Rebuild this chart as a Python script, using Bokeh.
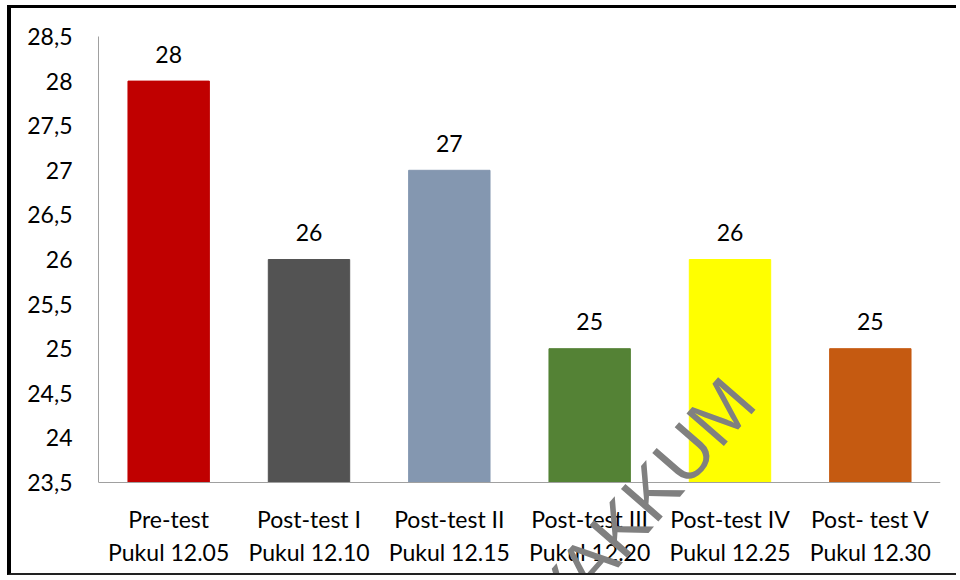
from bokeh.plotting import figure
from bokeh.models import FactorRange, Range1d, FixedTicker, Label, ColumnDataSource
from bokeh.core.properties import value
from bokeh.embed import file_html
from bokeh.resources import INLINE
import math

categories = ["Pre-test\nPukul 12.05", "Post-test I\nPukul 12.10", "Post-test II\nPukul 12.15",
              "Post-test III\nPukul 12.20", "Post-test IV\nPukul 12.25", "Post- test V\nPukul 12.30"]
scores = [28, 26, 27, 25, 26, 25]
bar_colors = ["#C00000", "#535353", "#8497B0", "#548235", "#FFFF00", "#C55A11"]
y_ticks = [23.5, 24, 24.5, 25, 25.5, 26, 26.5, 27, 27.5, 28, 28.5]
y_tick_labels = ["23,5", "24", "24,5", "25", "25,5", "26", "26,5", "27", "27,5", "28", "28,5"]
watermark = "YAKKUM"

FONT = "Lato"
PX_PER_UNIT = 446 / 5.0
Y_MIN, Y_MAX = 23.5, 28.5
frame_h = 570 - 28
y_low = Y_MAX - frame_h / PX_PER_UNIT

src = ColumnDataSource(dict(x=categories, top=scores, color=bar_colors,
                            label=[str(s) for s in scores]))

p = figure(width=949, height=570, output_backend="svg", toolbar_location=None,
           x_range=FactorRange(*categories, range_padding=0), y_range=Range1d(y_low, Y_MAX),
           min_border_left=87, min_border_top=28, min_border_right=20, min_border_bottom=0)
p.styles = {"margin-left": "7px", "margin-top": "5px",
            "border-top": "3px solid black", "border-left": "4px solid black",
            "border-bottom": "2px solid #222"}

p.vbar(x="x", top="top", bottom=Y_MIN, width=0.58, color="color", source=src)
p.text(x="x", y="top", text="label", source=src, text_align="center",
       text_baseline="alphabetic", y_offset=-27, text_font=value(FONT),
       text_font_size="23px", text_color="black")

p.xgrid.visible = False
p.ygrid.visible = False
p.outline_line_color = None

p.yaxis.ticker = FixedTicker(ticks=y_ticks)
p.yaxis.bounds = (Y_MIN, Y_MAX)
p.yaxis.major_label_overrides = {t: l for t, l in zip(y_ticks, y_tick_labels)}
p.yaxis.major_tick_line_color = None
p.yaxis.minor_tick_line_color = None
p.yaxis.major_tick_out = 0
p.yaxis.major_label_standoff = 26
p.yaxis.axis_line_color = "#A0A0A0"

p.xaxis.fixed_location = Y_MIN
p.xaxis.major_tick_line_color = None
p.xaxis.minor_tick_line_color = None
p.xaxis.major_tick_out = 0
p.xaxis.major_label_standoff = 22
p.xaxis.axis_line_color = "#A0A0A0"

for ax in (p.xaxis, p.yaxis):
    ax.major_label_text_font = FONT
    ax.major_label_text_font_size = "23px"
    ax.major_label_text_color = "black"

wm = Label(x=4.575, y=24.55, text=watermark, angle=math.radians(49),
           text_align="right", text_baseline="alphabetic",
           text_font="Liberation Sans", text_font_size="72px", text_color="#808080")
p.add_layout(wm)

open("out.html", "w").write(file_html(p, INLINE))
